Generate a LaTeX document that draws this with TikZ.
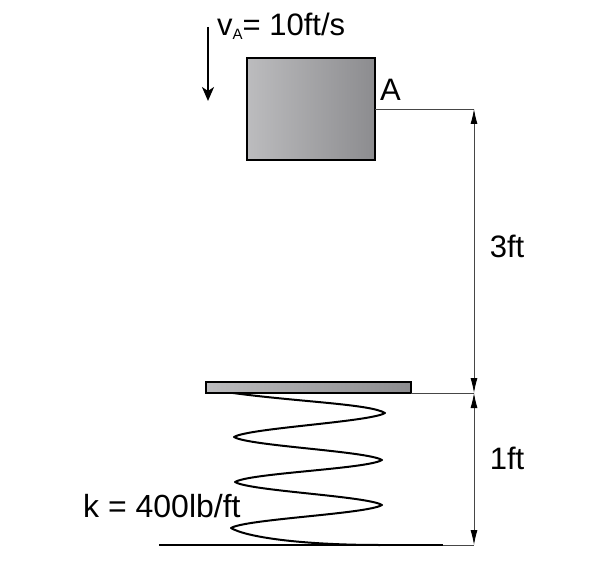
\documentclass[tikz,border=0pt]{standalone}
\usepackage{fontspec}
\setmainfont{Liberation Sans}
\usetikzlibrary{arrows.meta}
\definecolor{blockl}{RGB}{188,188,190}
\definecolor{blockr}{RGB}{140,140,143}
\definecolor{dimgray}{RGB}{70,70,70}
\tikzset{body/.style = {draw, line width = 2.4pt, left color = blockl, right color = blockr, inner sep = 0, outer sep = 0, anchor = north west}}
\tikzset{lbl/.style = {inner sep = 0, anchor = base west, font = \fontsize{31}{31}\selectfont}}
\tikzset{dimline/.style = {draw = dimgray, line width = 0.9pt}}
\tikzset{dimtip/.style = {dimline, {Latex[length=15pt,width=7pt,black]}-{Latex[length=15pt,width=7pt,black]}}}
\begin{document}
\begin{tikzpicture}[x=1pt, y=-1pt]
      \useasboundingbox (0, 0) rectangle (608, 572);

      \node [body, minimum width = 128, minimum height = 102] (Block) at (247, 58) {};
      \node [body, minimum width = 205, minimum height = 11] (Plate) at (206, 382) {};

      \coordinate (DimA) at (474, 109);
      \coordinate (DimP) at (474, 393);
      \coordinate (DimG) at (474, 545);
      \coordinate (GroundL) at (159, 545);
      \coordinate (GroundR) at (443, 545);
      \coordinate (ArrowT) at (208, 27);
      \coordinate (ArrowB) at (208, 101);

      \node [lbl] (VA) at (217, 36) {v\raisebox{-4pt}{\fontsize{15}{15}\selectfont A}= 10ft/s};
      \node [lbl] (A) at (380, 101) {A};
      \node [lbl, anchor = center] (H) at (507, 246) {3ft};
      \node [lbl, anchor = center] (D) at (507, 458) {1ft};
      \node [lbl, font = \fontsize{32}{32}\selectfont] (K) at (83, 517) {k = 400lb/ft};

      % extension lines
      \draw [dimline] (Block.east) -- (DimA);
      \draw [dimline] (Plate.south east) -- (DimP);
      \draw [dimline] (GroundR) -- (DimG);

      \draw [dimtip] (DimA) -- (DimP);
      \draw [dimtip] (DimP) -- (DimG);

      \draw [line width = 2pt, -{Stealth[length=14pt,width=12pt,inset=4pt]}] (ArrowT) -- (ArrowB);
      \draw [line width = 2pt] (GroundL) -- (GroundR);

      % spring
      \draw [line width = 2pt, line join = round]
        (233, 393) .. controls (300, 402) and (370, 404) .. (385, 413)
        .. controls (370, 422) and (249, 428) .. (234, 437)
        .. controls (249, 446) and (367, 451) .. (382, 460)
        .. controls (367, 469) and (250, 473) .. (235, 482)
        .. controls (250, 491) and (367, 496) .. (382, 505)
        .. controls (367, 514) and (246, 519) .. (231, 528)
        .. controls (246, 537) and (300, 545) .. (380, 545);
    \end{tikzpicture}
\end{document}
